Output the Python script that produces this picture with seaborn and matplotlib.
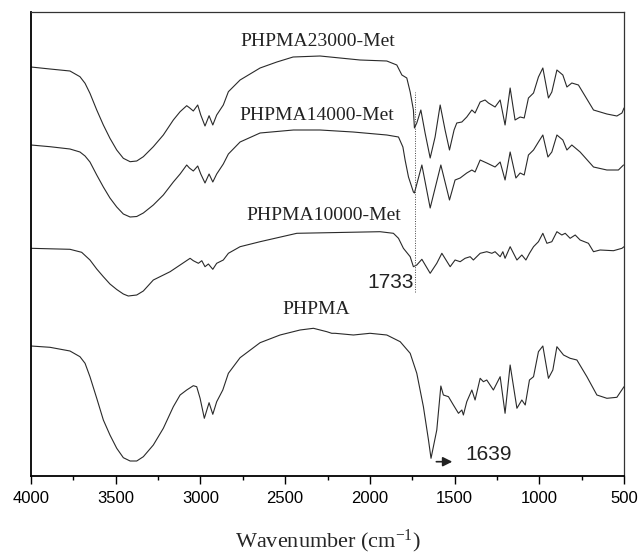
import numpy as np
import pandas as pd
import matplotlib
matplotlib.use("Agg")
import matplotlib.pyplot as plt
import seaborn as sns

# ---------------- data ----------------
samples = ["PHPMA23000-Met", "PHPMA14000-Met", "PHPMA10000-Met", "PHPMA"]

wn_23000 = [4000, 3888, 3770, 3711, 3681, 3652, 3612, 3573, 3534, 3494, 3455, 3415, 3376, 3337, 3278,
            3219, 3160, 3120, 3081, 3065, 3042, 3016, 2998, 2973, 2949, 2927, 2904, 2865, 2835, 2766,
            2648, 2549, 2453, 2294, 2176, 2058, 1900, 1841, 1811, 1782, 1762,
            1743, 1737, 1723, 1699, 1674, 1644, 1615, 1585, 1556, 1530, 1503, 1487, 1457, 1428, 1398,
            1379, 1349, 1320, 1300, 1261, 1231, 1202, 1172, 1143, 1113, 1089, 1064, 1034, 1005, 979,
            946, 926, 896, 861, 837, 808, 769, 680, 601, 542, 512, 500]
t_23000 = [409, 407, 405, 399.3, 392.7, 382.7, 366, 351, 337.7, 326, 317.7, 314.3, 315, 319.3, 329.3,
           341, 356, 364.3, 370.3, 368.3, 365, 371, 361, 350, 360.3, 351, 361, 371, 384.3, 396,
           408, 414, 419, 420, 418, 416, 415, 411, 401, 398, 384,
           366, 348, 353, 366, 343, 318, 339, 371, 346, 326, 346, 353, 354, 359, 366,
           363, 374, 376, 373, 369, 376, 351, 388, 356, 359, 358, 378, 383, 399, 408,
           378, 384, 406, 401, 389, 393, 391, 366, 362, 360, 363, 368]

wn_14000 = [4000, 3888, 3770, 3711, 3681, 3652, 3612, 3573, 3534, 3494, 3455, 3415, 3376, 3337, 3278,
            3219, 3160, 3120, 3081, 3065, 3042, 3016, 2998, 2973, 2949, 2927, 2904, 2865, 2835, 2766,
            2648, 2451, 2294, 2099, 1900, 1831, 1805, 1792, 1772, 1743, 1737, 1693,
            1644, 1581, 1530, 1497, 1467, 1428, 1398, 1379, 1349, 1310, 1261, 1231, 1202, 1172, 1138,
            1113, 1089, 1064, 1034, 1005, 979, 949, 926, 896, 861, 837, 808, 759, 680, 601, 533, 503]
t_14000 = [331, 329.3, 327, 324, 320, 314, 301, 289, 278, 269, 262, 259, 259.5, 263, 271,
           281, 294, 302, 311, 308, 305, 310, 302, 293, 302, 294, 302, 312, 322, 334,
           343, 346, 346, 344, 341, 339, 329, 316, 299, 284, 283, 311,
           268, 311, 276, 296, 298, 303, 306, 304, 316, 313, 309, 314, 296, 324, 298,
           303, 301, 321, 326, 334, 341, 319, 324, 341, 336, 326, 331, 324, 309, 306, 306, 311]

wn_10000 = [4000, 3888, 3770, 3701, 3652, 3612, 3573, 3534, 3494, 3455, 3426, 3376, 3337, 3278,
            3179, 3061, 3042, 3012, 2992, 2973, 2953,
            2927, 2904, 2865, 2835, 2766, 2648, 2431, 1940, 1861, 1831, 1802, 1762, 1743, 1723, 1693,
            1644, 1605, 1575, 1526, 1497, 1467, 1438, 1408, 1389, 1349, 1310, 1280, 1261, 1231, 1215,
            1202, 1172, 1132, 1103, 1079, 1058, 1034, 1005, 979, 955, 926, 896, 867, 847, 818,
            788, 759, 710, 680, 641, 562, 512, 500]
t_10000 = [227.7, 227.2, 226.7, 223.7, 216, 207, 199.3, 192, 186.5, 182, 180, 181, 185, 196,
           204.3, 217.7, 215.3, 212.7, 215.3, 209.3, 212,
           206.7, 212.7, 216, 222.7, 229.3, 234.3, 242.7, 244.3, 242.7, 237.7, 227.7, 219.3, 209.3, 211, 216.7,
           202.7, 212.7, 222.7, 209.3, 216, 214.3, 217.7, 219.3, 216, 222.7, 224.3, 222.7, 224.3, 219.3, 224.3,
           217.7, 229.3, 216, 221, 216, 222.7, 229.3, 234.3, 242.7, 232.7, 234.3, 244.3, 241, 242.7, 237.7,
           241, 236, 232.7, 224.3, 226, 225.3, 227.7, 229.3]

wn_phpma = [4000, 3888, 3770, 3711, 3681, 3652, 3612, 3573, 3534, 3494, 3455, 3415, 3376, 3337, 3278,
            3219, 3160, 3120, 3081, 3042, 3022, 3002, 2977, 2949, 2927, 2904, 2868, 2835, 2766,
            2648, 2530, 2412, 2333, 2254, 2225, 2205, 2097, 1999, 1900, 1821,
            1762, 1723, 1684, 1654, 1639, 1605, 1581, 1566, 1536, 1507, 1477, 1457, 1448, 1428, 1398,
            1379, 1349, 1330, 1310, 1271, 1231, 1202, 1172, 1132, 1103, 1083, 1058, 1034, 1005, 979,
            946, 920, 896, 857, 818, 778, 719, 660, 601, 542, 500]
t_phpma = [130, 128.7, 125, 119.3, 112.7, 99.3, 77.7, 56, 41, 27.7, 18.3, 15, 15, 19.3, 31,
           47.7, 69.3, 81, 86, 90.3, 89.3, 77.7, 57.7, 73.3, 61.7, 74.3, 86, 102.7, 118.3,
           133.3, 141, 146, 147.7, 144.3, 142.7, 142.7, 141, 142.7, 141, 134.3,
           122.7, 102.7, 69.3, 36, 17.7, 46, 90, 81, 79.3, 71, 62.7, 66, 61, 74.3, 86,
           76, 97.7, 94.3, 96, 86, 99.3, 62.7, 111, 67.7, 76, 71, 96, 99.3, 124.3, 130,
           97.7, 106, 129.3, 121, 117.7, 116, 99.3, 81, 77.7, 78.7, 89.3]

xticks = [4000, 3500, 3000, 2500, 2000, 1500, 1000, 500]
peak_ester = 1733
peak_amide = 1639

# ---------------- build table ----------------
frames = []
for name, wn, tr in zip(samples, [wn_23000, wn_14000, wn_10000, wn_phpma],
                        [t_23000, t_14000, t_10000, t_phpma]):
    frames.append(pd.DataFrame({"wavenumber": wn, "T": tr, "sample": name}))
df = pd.concat(frames, ignore_index=True)

# ---------------- style ----------------
sns.set_style("ticks")
plt.rcParams["font.family"] = ["Liberation Sans", "DejaVu Sans"]
plt.rcParams["mathtext.fontset"] = "custom"
plt.rcParams["mathtext.rm"] = "Liberation Serif"
plt.rcParams["mathtext.it"] = "Liberation Serif:italic"

fig = plt.figure(figsize=(6.39, 5.56), dpi=100)
ax = fig.add_axes([31 / 639, 80 / 556, 593 / 639, 464 / 556])

sns.lineplot(data=df, x="wavenumber", y="T", hue="sample", units="sample", estimator=None,
             palette={s: "#2a2a2a" for s in samples}, legend=False, linewidth=0.8,
             sort=True, ax=ax)

ax.set_xlim(4000, 500)
ax.set_ylim(0, 464)
ax.set_yticks([])
ax.set_ylabel("")
ax.set_xticks(xticks)
ax.set_xticklabels([str(t) for t in xticks], fontsize=12, family="Liberation Sans")
ax.set_xticks([3750, 3250, 2750, 2250, 1750, 1250, 750], minor=True)
ax.tick_params(axis="x", which="major", direction="out", length=5.8, width=1, pad=5, colors="black")
ax.tick_params(axis="x", which="minor", direction="out", length=3, width=1, colors="black")
for side in ["left", "bottom"]:
    ax.spines[side].set_linewidth(1.3)
    ax.spines[side].set_color("black")
for side in ["top", "right"]:
    ax.spines[side].set_visible(True)
    ax.spines[side].set_linewidth(0.9)
    ax.spines[side].set_color("#333333")

ax.set_xlabel("Wavenumber (cm$^{\\mathrm{-1}}$)", fontsize=16, family="Liberation Serif")
ax.xaxis.set_label_coords(0.501, -0.141)
ax.xaxis.label.set_va("center")

# curve labels
label_pos = {"PHPMA23000-Met": (2305, 434), "PHPMA14000-Met": (2313, 360),
             "PHPMA10000-Met": (2272, 260), "PHPMA": (2317, 166)}
for s in samples:
    x, y = label_pos[s]
    ax.text(x, y, s, ha="center", va="center", fontsize=14, family="Liberation Serif", color="#222222")

# 1733 dotted marker
ax.plot([peak_ester, peak_ester], [184, 384], linestyle=(0, (1, 1.5)), color="#444444", linewidth=0.7)
ax.text(1880, 193, str(peak_ester), ha="center", va="center", fontsize=15, color="#222222")

# 1639 arrow
ax.annotate("", xy=(1497, 14.3), xytext=(1624, 14.3),
            arrowprops=dict(arrowstyle="-|>", color="#222222", lw=1.2, mutation_scale=14))
ax.text(1438, 22, str(peak_amide), ha="left", va="center", fontsize=15, color="#222222")

fig.savefig("out.png", dpi=100)
